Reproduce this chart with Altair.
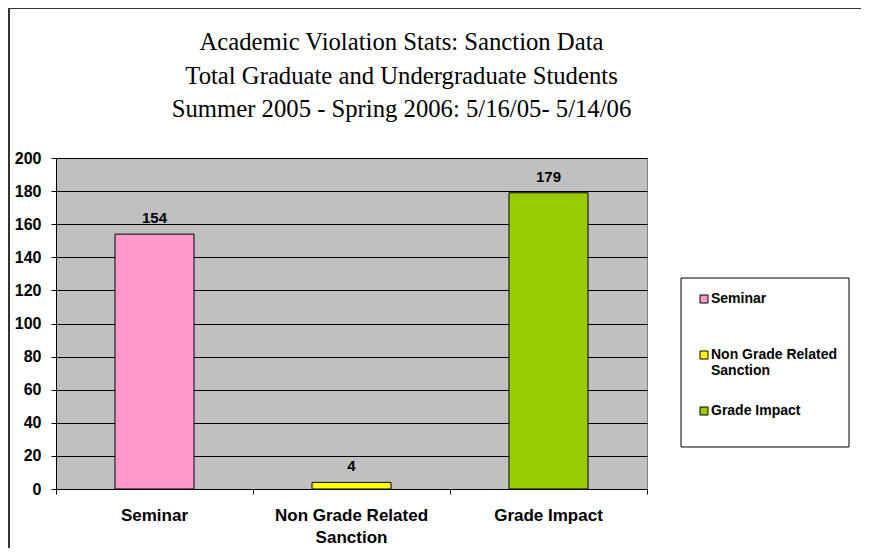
import altair as alt
import pandas as pd

categories = ["Seminar", "Non Grade Related Sanction", "Grade Impact"]
values = [154, 4, 179]
colors = ["#FF99CC", "#FFFF00", "#99CC00"]
y_ticks = [0, 20, 40, 60, 80, 100, 120, 140, 160, 180, 200]
title_lines = [
    "Academic Violation Stats: Sanction Data",
    "Total Graduate and Undergraduate Students",
    "Summer 2005 - Spring 2006: 5/16/05- 5/14/06",
]

df = pd.DataFrame({"category": categories, "value": values})
deco = pd.DataFrame({"d": [0]})

split_expr = ("datum.label == 'Non Grade Related Sanction' ? "
              "['Non Grade Related', 'Sanction'] : datum.label")

x_enc = alt.X(
    "category:N", sort=categories, title=None,
    scale=alt.Scale(paddingInner=0, paddingOuter=0),
    axis=alt.Axis(labelAngle=0, labelExpr=split_expr, bandPosition=1, tickExtra=True,
                  labelFont="Liberation Sans", labelFontWeight="bold",
                  labelFontSize=17, labelColor="black", labelPadding=13, labelLineHeight=22,
                  domainColor="black", tickColor="black", tickSize=5, grid=False,
                  labelBaseline="top", labelOverlap=False),
)
y_enc = alt.Y(
    "value:Q", title=None,
    scale=alt.Scale(domain=[0, 200], nice=False),
    axis=alt.Axis(values=y_ticks, tickCount=11, labelFont="Liberation Sans",
                  labelFontWeight="bold",
                  labelFontSize=16, labelColor="black", labelPadding=10, labelOverlap=False,
                  domainColor="black", tickColor="black", tickSize=5,
                  grid=True, gridColor="black", gridWidth=1),
)

bars = alt.Chart(df).mark_bar(size=79, stroke="black", strokeWidth=1).encode(
    x=x_enc, y=y_enc,
    color=alt.Color("category:N", sort=categories,
                    scale=alt.Scale(domain=categories, range=colors),
                    legend=alt.Legend(title=None, orient="none", legendX=641, legendY=127,
                                      labelExpr=split_expr, labelBaseline="top",
                                      symbolType="M-1,0.75H1V2.75H-1Z", symbolSize=64,
                                      symbolStrokeColor="black", symbolStrokeWidth=1,
                                      labelFont="Liberation Sans", labelFontWeight="bold",
                                      labelFontSize=14, labelColor="black", labelOffset=0,
                                      rowPadding=19, labelLimit=200, gridAlign="all")),
)

labels = alt.Chart(df).mark_text(dy=-16, baseline="middle", font="Liberation Sans",
                                 fontWeight="bold", fontSize=15, color="black").encode(
    x=x_enc, y=y_enc, text="value:Q")

legend_box = alt.Chart(deco).mark_rect(fill="white", stroke="black", strokeWidth=1).encode(
    x=alt.value(625), x2=alt.value(793), y=alt.value(120), y2=alt.value(289))

# outer frame of the chart (top and left edges visible)
frame_top = alt.Chart(deco).mark_rule(color="#333333", strokeWidth=2).encode(
    x=alt.value(-47), x2=alt.value(820), y=alt.value(-150))
frame_left = alt.Chart(deco).mark_rule(color="#333333", strokeWidth=2).encode(
    x=alt.value(-47), y=alt.value(-151), y2=alt.value(400))

title = alt.Chart(deco).mark_text(
    text=title_lines, font="Liberation Serif", fontSize=24.7, lineHeight=33.5,
    align="center", baseline="alphabetic", color="black",
).encode(x=alt.value(345.5), y=alt.value(-108))

chart = alt.layer(frame_top, frame_left, title, legend_box, bars, labels).properties(
    width=591, height=331,
    padding={"left": 48, "top": 150, "right": 214, "bottom": 59},
    autosize=alt.AutoSizeParams(type="none"),
).configure_view(fill="#C0C0C0", stroke="#808080")

chart.save("out.html", embed_options={"renderer": "svg", "actions": False})
